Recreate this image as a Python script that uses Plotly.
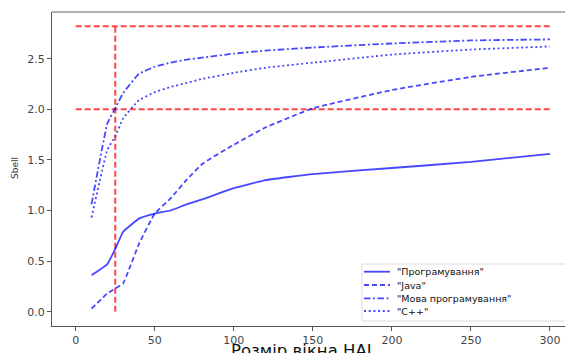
import plotly.graph_objects as go

x_vals = [10, 20, 25, 30, 40, 50, 60, 70, 80, 100, 120, 150, 200, 250, 300]
prog = [0.36, 0.47, 0.62, 0.79, 0.92, 0.97, 1.00, 1.06, 1.11, 1.22, 1.30, 1.36, 1.42, 1.48, 1.56]
java = [0.03, 0.18, 0.23, 0.28, 0.67, 0.97, 1.12, 1.30, 1.46, 1.65, 1.82, 2.01, 2.19, 2.32, 2.41]
mova = [1.06, 1.86, 2.01, 2.16, 2.35, 2.42, 2.46, 2.49, 2.51, 2.55, 2.58, 2.61, 2.65, 2.68, 2.69]
cpp = [0.93, 1.60, 1.73, 1.91, 2.09, 2.17, 2.22, 2.26, 2.30, 2.36, 2.41, 2.46, 2.54, 2.59, 2.62]
names = ['"Програмування"', '"Java"', '"Мова програмування"', '"C++"']

h_lines = [2.0, 2.82]
v_line_x = 25
x_ticks = [0, 50, 100, 150, 200, 250, 300]
y_ticks = [0.0, 0.5, 1.0, 1.5, 2.0, 2.5]

W, H = 565, 353
ML, MR, MT, MB = 52, 0, 12, 27
PW, PH = W - ML - MR, H - MT - MB

blue = "rgba(0,0,255,0.72)"
red = "rgba(255,0,0,0.72)"

fig = go.Figure()
red_dash = "6px,3px"
for yv in h_lines:
    fig.add_trace(go.Scatter(x=[0, 300], y=[yv, yv], mode="lines",
                             line=dict(color=red, width=2, dash=red_dash),
                             showlegend=False, hoverinfo="skip"))
fig.add_trace(go.Scatter(x=[v_line_x, v_line_x], y=[0, h_lines[1]], mode="lines",
                         line=dict(color=red, width=2, dash=red_dash),
                         showlegend=False, hoverinfo="skip"))

styles = ["solid", "5px,3px", "6.5px,2.5px,2px,2.5px", "2px,2.7px"]
for ys, nm, ds in zip([prog, java, mova, cpp], names, styles):
    fig.add_trace(go.Scatter(x=x_vals, y=ys, mode="lines", name=nm, showlegend=False,
                             line=dict(color=blue, width=1.8, dash=ds, shape="spline", smoothing=0.3)))

axis_common = dict(showgrid=False, zeroline=False, showline=True, linecolor="#555",
                   linewidth=1, ticks="outside", ticklen=4, tickcolor="#555",
                   tickfont=dict(family="DejaVu Sans", size=11, color="#444"))
fig.update_xaxes(range=[-15, 309.5], tickvals=x_ticks, **axis_common)
fig.update_yaxes(range=[-0.141, 2.961], tickvals=y_ticks, tickformat=".1f", **axis_common)

fig.add_shape(type="line", xref="paper", yref="paper", x0=0, x1=1, y0=1, y1=1,
              line=dict(color="#999", width=1.5))

# legend box (pixel positions converted to paper coords)
def px(xp):
    return (xp - ML) / PW

def py(yp):
    return 1 - (yp - MT) / PH

fig.add_shape(type="rect", xref="paper", yref="paper", x0=px(362), x1=px(575), y0=py(264), y1=py(321),
              line=dict(color="#ddd", width=1), fillcolor="rgba(255,255,255,0.85)")
legend_y = [271.7, 285, 298.3, 311]
for nm, ds, ly in zip(names, styles, legend_y):
    fig.add_shape(type="line", xref="paper", yref="paper", x0=px(364), x1=px(390), y0=py(ly), y1=py(ly),
                  line=dict(color=blue, width=1.8, dash=ds))
    fig.add_annotation(text=nm, xref="paper", yref="paper", x=px(395), y=py(ly),
                       xanchor="left", yanchor="middle", showarrow=False,
                       font=dict(family="DejaVu Sans", size=9.5, color="#111"))

fig.add_annotation(text="Розмір вікна HAL", xref="paper", yref="paper", x=px(304), y=py(339),
                   xanchor="center", yanchor="top", showarrow=False,
                   font=dict(family="DejaVu Sans", size=16.5, color="#111"))
fig.add_annotation(text="Sbell", xref="paper", yref="paper", x=px(15), y=py(168),
                   xanchor="center", yanchor="middle", showarrow=False, textangle=-90,
                   font=dict(family="DejaVu Sans", size=9, color="#333"))

fig.update_layout(
    width=W, height=H,
    margin=dict(l=ML, r=MR, t=MT, b=MB),
    paper_bgcolor="white", plot_bgcolor="white",
    showlegend=False,
)
fig.write_html("out.html", config={"displayModeBar": False},
               post_script="document.body.style.margin='0';")
